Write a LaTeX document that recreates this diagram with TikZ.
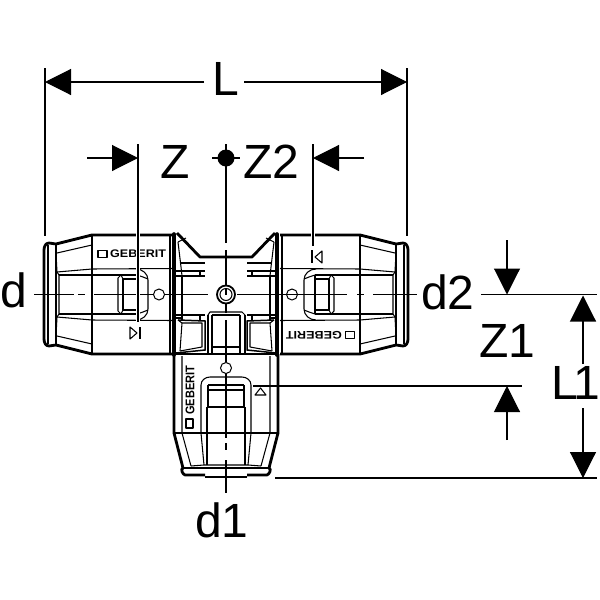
\documentclass[tikz,border=0pt]{standalone}
\usepackage{fontspec}
\setmainfont{Liberation Sans}
\usepackage{tikz}
\usetikzlibrary{arrows.meta}
\tikzstyle{dimarrow} = [line width=1.1pt,-{Triangle[length=26pt,width=26pt]}]
\tikzstyle{dimline} = [line width=1.1pt]
\tikzstyle{dimlabel} = [font=\fontsize{48}{48}\selectfont,inner sep=0pt,anchor=base west]
\tikzstyle{outline} = [line width=2.8pt,line join=round]
\tikzstyle{thin} = [line width=1.05pt,line join=round]
\tikzstyle{centerline} = [line width=1.1pt]
\tikzstyle{halo} = [white,line width=4.5pt]
\tikzstyle{logo} = [font=\fontsize{11}{11}\selectfont\bfseries,inner sep=0pt,xscale=1.14,transform shape]
% one quarter of a coupling, the upper left one
\newcommand{\couplingquarter}{
    \draw[outline] (44,294.5) -- (44,250) to[out=90,in=180] (49,243) -- (56,244) -- (92,235) -- (172,235);
    \draw[line width=1.6pt] (56,243) -- (56,294.5);
    \draw[thin] (48,245) -- (48,294.5);
    \draw[thin] (57,253) -- (92,245);
    \draw[thin] (56,253) -- (57,272) -- (59,275) -- (59,294.5);
    \draw[thin] (57,272) -- (92,269) -- (172,268.5);
    \draw[thin] (92,235) -- (92,294.5);
    \draw[thin] (170,235) -- (170,294.5);
    % window
    \draw[thin] (59,275) -- (137,275);
    \draw[thin] (118,294.5) -- (118,278) -- (121,275);
    \draw[thin] (123,294.5) -- (123,279) -- (137,279);
    \draw[line width=1.5pt] (137,275) -- (137,294.5);
    \draw[thin] (121,275) -- (123,279);
    \draw[thin] (136,269) to[out=0,in=90] (148,280) -- (148,294.5);
    \draw[thin] (137,275) -- (143,277) -- (148,279);
}
\newcommand{\couplinghalf}{
    \couplingquarter
    \begin{scope}[shift={(0,589)},yscale=-1]
        \couplingquarter
    \end{scope}
}
% the pocket beside the stem
\newcommand{\sidepocket}{
    \draw[line width=1.5pt] (178,320) -- (205,321) -- (205,350) -- (176,353);
    \draw[thin] (182,323) -- (202,323) -- (202,347) -- (180,351);
    \draw[thin] (178,320) -- (182,323) -- (180,351);
    \draw[thin] (176,315) -- (182,315) -- (182,320);
    \draw[thin] (182,315) -- (205,315);
    \draw[thin] (200,315) -- (200,320);
    \draw[thin] (176,271) -- (205,271);
    \draw[thin] (200,271) -- (200,276);
    \draw[thin] (176,276) -- (205,276);
    \draw[thin] (182,276) -- (182,315);
    \draw[thin] (178,242) -- (181,267) -- (182,276);
    \draw[thin] (181,263) -- (205,263);
    \draw[outline] (177,233) -- (200,257) -- (226,257);
    \draw[thin] (186,238) -- (178,242);
    \draw[thin] (182,318) -- (174,318);
    % lower stem
    \draw[outline] (174,354) -- (174,433) -- (183,468);
    \draw[thin] (182,356) -- (182,433) -- (191,466);
    \draw[thin] (174,433) -- (226,433);
    \draw[thin] (201,433) -- (201,385) to[out=90,in=180] (210,377) -- (226,377);
    \draw[thin] (201,433) -- (204,465);
    \draw[thin] (207,407) -- (207,465);
    \draw[thin] (191,466) -- (204,465) -- (226,465);
    \draw[outline] (183,468) to[out=200,in=160] (185,475) -- (205,475);
    \draw[outline] (183,468) -- (226,468);
    \draw[outline] (205,477) -- (226,477);
    \draw[thin] (208,385) -- (208,407) -- (226,407);
    \draw[thin] (208,385) -- (226,385);
    \draw[line width=1.5pt] (208,390) -- (226,390);
}
\begin{document}
\begin{tikzpicture}[x=1pt,y=-1pt]
    \useasboundingbox (0,0) rectangle (600,600);
    % couplings
    \couplinghalf
    \begin{scope}[shift={(452,0)},xscale=-1]
        \couplinghalf
    \end{scope}
    % centre block
    \sidepocket
    \begin{scope}[shift={(452,0)},xscale=-1]
        \sidepocket
    \end{scope}
    \draw[line width=3.6pt,line cap=round] (174,234) -- (174,355);
    \draw[line width=3.6pt,line cap=round] (277,234) -- (277,355);
    \draw[outline] (173,354) -- (279,354);
    \draw[thin] (208,315) -- (210,312) -- (242,312) -- (245,315);
    \draw[thin] (212,315) -- (240,315);
    \draw[thin] (208,315) -- (208,353);
    \draw[thin] (245,315) -- (245,353);
    \draw[thin] (212,315) -- (212,353);
    \draw[thin] (240,315) -- (240,353);
    \draw[thin] (212,347) -- (240,347);
    % centre lines
    \draw[centerline] (34,294.5) -- (74,294.5);
    \draw[centerline] (78,294.5) -- (85,294.5);
    \draw[centerline] (94,294.5) -- (208,294.5);
    \draw[centerline] (237,294.5) -- (347,294.5);
    \draw[centerline] (357,294.5) -- (364,294.5);
    \draw[centerline] (373,294.5) -- (417,294.5);
    \draw[centerline] (226,250) -- (226,313);
    \draw[centerline] (226,320) -- (226,362);
    \draw[centerline] (226,373) -- (226,438);
    \draw[centerline] (226,443) -- (226,450);
    \draw[centerline] (226,460) -- (226,493);
    % holes
    \node (holeleft) [circle,draw,fill=white,line width=1pt,minimum size=11pt,inner sep=0pt] at (159,294.5) {};
    \node (holeright) [circle,draw,line width=1pt,minimum size=11pt,inner sep=0pt] at (292,294.5) {};
    \node (holestem) [circle,draw,fill=white,line width=1pt,minimum size=11pt,inner sep=0pt] at (226,368) {};
    \node (hub) [circle,draw,fill=white,line width=1.8pt,minimum size=18pt,inner sep=0pt] at (226,294.5) {};
    \node (hubinner) [circle,draw,line width=1pt,minimum size=12pt,inner sep=0pt] at (226,294.5) {};
    \draw[centerline] (226,288) -- (226,294.5);
    % logos
    \node (logoleft) [logo,anchor=west] at (110,254) {GEBERIT};
    \node (logoright) [logo,rotate=180,anchor=west] at (342,335) {GEBERIT};
    \node (logostem) [logo,rotate=90,anchor=west] at (190,415) {GEBERIT};
    \node (boxleft) [draw,thin,minimum width=9pt,minimum height=6.5pt,inner sep=0pt] at (102.5,254) {};
    \node (boxright) [draw,thin,minimum width=9pt,minimum height=6.5pt,inner sep=0pt] at (350,335) {};
    \node (boxstem) [draw,thin,minimum width=7pt,minimum height=9pt,inner sep=0pt] at (189.5,423.5) {};
    % markers
    \draw[thin] (130,327) -- (137,333) -- (130,339) -- cycle;
    \draw[line width=1.4pt] (140,327) -- (140,339);
    \draw[thin] (322,251) -- (315,257) -- (322,263) -- cycle;
    \draw[line width=1.4pt] (312,250) -- (312,263);
    \draw[thin] (255,395) -- (260.5,388) -- (266,395) -- cycle;
    \draw[line width=1.4pt] (253,386) -- (267,386);
    % dimension points
    \coordinate (Lleft) at (45,82);
    \coordinate (Lright) at (407,82);
    \coordinate (Lleftend) at (204,82);
    \coordinate (Lrightend) at (244,82);
    \coordinate (Lleftup) at (45,68);
    \coordinate (Lleftdown) at (45,236);
    \coordinate (Lrightup) at (407,68);
    \coordinate (Lrightdown) at (407,236);
    \coordinate (Ztop) at (138,144);
    \coordinate (Zbottom) at (138,322);
    \coordinate (Zin) at (87,158);
    \coordinate (Zend) at (138,158);
    \coordinate (Ztwotop) at (313,144);
    \coordinate (Ztwobottom) at (313,246);
    \coordinate (Ztwoin) at (364,158);
    \coordinate (Ztwoend) at (313,158);
    \coordinate (dottop) at (226,144);
    \coordinate (dotdown) at (226,243);
    \coordinate (dotleft) at (212,158);
    \coordinate (dotright) at (240,158);
    \coordinate (Zoneupin) at (507,240);
    \coordinate (Zoneupend) at (507,294.5);
    \coordinate (Zonedownin) at (507,440);
    \coordinate (Zonedownend) at (507,386);
    \coordinate (axisstart) at (481,294.5);
    \coordinate (axisend) at (597,294.5);
    \coordinate (markerstart) at (267,386);
    \coordinate (markerend) at (522,386);
    \coordinate (footstart) at (275,478);
    \coordinate (footend) at (597,478);
    \coordinate (Loneupin) at (583,364);
    \coordinate (Loneupend) at (583,295.5);
    \coordinate (Lonedownin) at (583,408);
    \coordinate (Lonedownend) at (583,478);
    % dimensions
    \draw[dimarrow] (Lleftend) -- (Lleft);
    \draw[dimarrow] (Lrightend) -- (Lright);
    \draw[dimline] (Lleftup) -- (Lleftdown);
    \draw[dimline] (Lrightup) -- (Lrightdown);
    \draw[halo] (138,232) -- (Zbottom);
    \draw[dimline] (Ztop) -- (Zbottom);
    \draw[halo] (313,232) -- (Ztwobottom);
    \draw[dimline] (Ztwotop) -- (Ztwobottom);
    \draw[dimarrow] (Zin) -- (Zend);
    \draw[dimarrow] (Ztwoin) -- (Ztwoend);
    \draw[dimline] (dottop) -- (dotdown);
    \draw[dimline] (dotleft) -- (dotright);
    \node (dot) [circle,fill=black,minimum size=17pt,inner sep=0pt] at (226,158) {};
    \draw[dimline] (axisstart) -- (axisend);
    \draw[dimline] (markerstart) -- (markerend);
    \draw[dimline] (footstart) -- (footend);
    \draw[dimarrow] (Zoneupin) -- (Zoneupend);
    \draw[dimarrow] (Zonedownin) -- (Zonedownend);
    \draw[dimarrow] (Loneupin) -- (Loneupend);
    \draw[dimarrow] (Lonedownin) -- (Lonedownend);
    % labels
    \node (Ltext) [dimlabel] at (212.5,95) {L};
    \node (Ztext) [dimlabel] at (160,178) {Z};
    \node (Ztwotext) [dimlabel] at (243,178) {Z2};
    \node (dtext) [dimlabel] at (0,307) {d};
    \node (dtwotext) [dimlabel] at (421,309) {d2};
    \node (donetext) [dimlabel] at (195,537) {d1};
    \node (Zonetext) [dimlabel] at (479,357) {Z1};
    \node (Lonetext) [dimlabel] at (551,399) {L\kern-4pt 1};
\end{tikzpicture}
\end{document}
